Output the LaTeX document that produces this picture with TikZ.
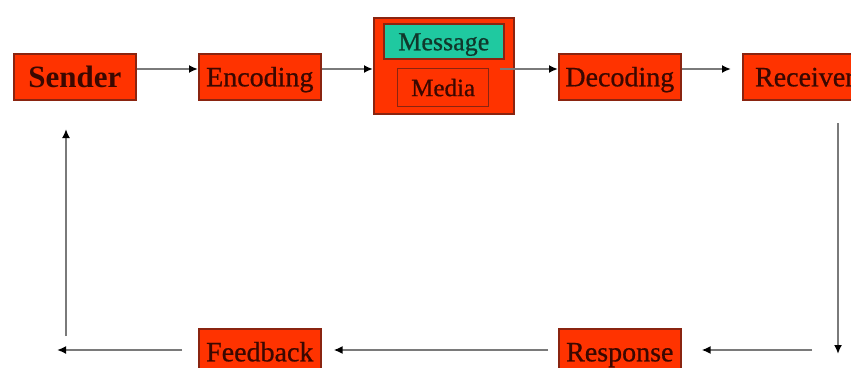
\documentclass[tikz,border=0pt]{standalone}
\usepackage{fontspec}
\setmainfont{Liberation Serif}
\newfontface\boxfont[FakeBold=0.7]{Liberation Serif}
\usetikzlibrary{arrows.meta}
\definecolor{boxred}{HTML}{FF3300}
\definecolor{boxedge}{HTML}{8A2410}
\definecolor{boxtext}{HTML}{3A0800}
\definecolor{msgteal}{HTML}{1FC9A0}
\definecolor{msgtext}{HTML}{10382C}
\definecolor{linegray}{HTML}{7A7A7A}
\tikzset{
  redbox/.style={draw=boxedge, line width=1.6pt, fill=boxred, text=boxtext,
    anchor=north west, inner sep=0pt, minimum width=122pt, minimum height=46pt,
    text height=19pt, text depth=0pt,
    font=\boxfont\fontsize{28}{30}\selectfont},
  arr/.style={draw=linegray, line width=1.8pt,
    -{Latex[length=9pt,width=8pt,color=black]}},
}
\begin{document}
\begin{tikzpicture}[x=1pt,y=-1pt]
\useasboundingbox (0,0) rectangle (851,367);
\fill[white] (0,0) rectangle (851,367);
% top row
\node[redbox, text height=21pt, font=\bfseries\fontsize{31}{33}\selectfont] (sender) at (13,53) {Sender};
\node[redbox] (encoding) at (198,53) {Encoding};
\node[draw=boxedge, line width=1.6pt, fill=boxred, anchor=north west,
  minimum width=140pt, minimum height=96pt, inner sep=0pt] (big) at (373,17) {};
\node[draw=boxedge, line width=1.6pt, fill=msgteal, text=msgtext, anchor=north west,
  minimum width=120pt, minimum height=35pt, inner sep=0pt,
  text height=18pt, text depth=0pt,
  font=\boxfont\fontsize{26}{28}\selectfont] (message) at (383,23) {Message};
\node[draw=boxedge, line width=1.3pt, fill=boxred, text=boxtext, anchor=north west,
  minimum width=91pt, minimum height=38pt, inner sep=0pt,
  text height=17pt, text depth=0pt,
  font=\boxfont\fontsize{25}{27}\selectfont] (media) at (397,68) {Media};
\node[redbox] (decoding) at (558,53) {Decoding};
\node[redbox, minimum width=124pt] (receiver) at (742,53) {Receiver};
% bottom row
\node[redbox] (response) at (558,328) {Response};
\node[redbox] (feedback) at (198,328) {Feedback};
% helper coordinates
\coordinate (row) at (0,69);
\coordinate (rtop) at (838,123);
\coordinate (rbot) at (838,354);
\coordinate (bstart) at (812,350);
\coordinate (brow) at (0,350);
\coordinate (lend) at (57,350);
\coordinate (lbot) at (66,336);
\coordinate (ltop) at (66,129);
% connectors
\draw[arr] (sender.east |- row) -- (encoding.west |- row);
\draw[arr] (encoding.east |- row) -- (big.west |- row);
\draw[arr, shorten <=-15pt] (big.east |- row) -- (decoding.west |- row);
\draw[arr, shorten >=11pt] (decoding.east |- row) -- (receiver.west |- row);
\draw[arr] (rtop) -- (rbot);
\draw[arr, shorten >=20pt] (bstart) -- (response.east |- brow);
\draw[arr, shorten <=10pt, shorten >=12pt] (response.west |- brow) -- (feedback.east |- brow);
\draw[arr, shorten <=16pt] (feedback.west |- brow) -- (lend);
\draw[arr] (lbot) -- (ltop);
\end{tikzpicture}
\end{document}
